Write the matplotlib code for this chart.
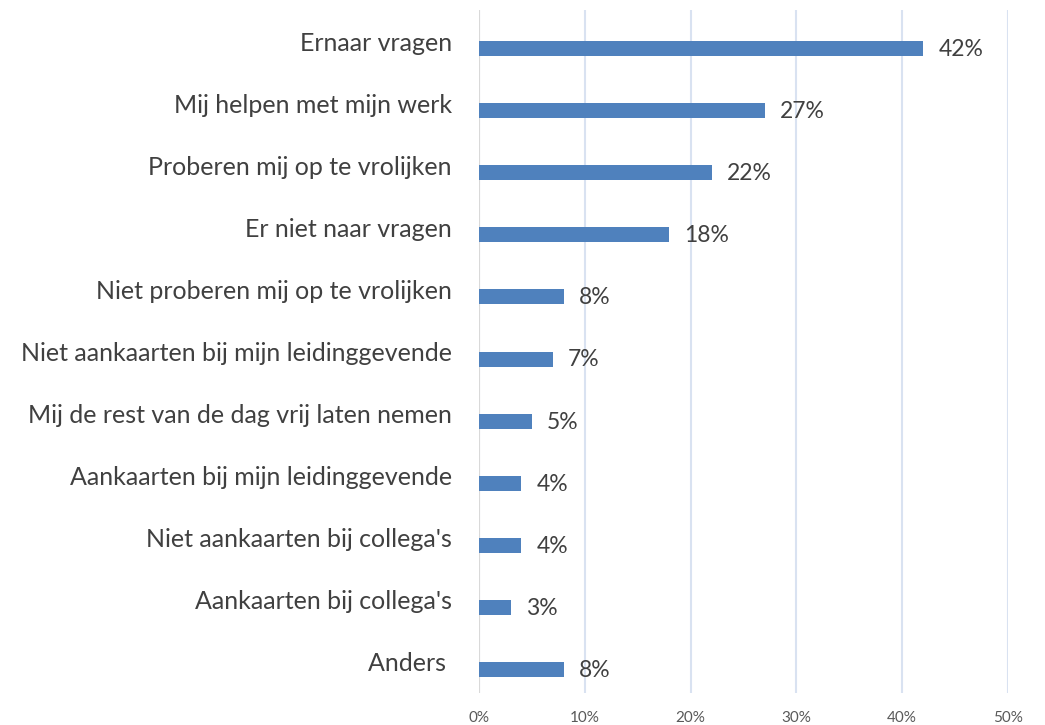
import matplotlib
matplotlib.use("Agg")
import matplotlib.pyplot as plt
from matplotlib.ticker import FuncFormatter

categories = [
    "Ernaar vragen",
    "Mij helpen met mijn werk",
    "Proberen mij op te vrolijken",
    "Er niet naar vragen",
    "Niet proberen mij op te vrolijken",
    "Niet aankaarten bij mijn leidinggevende",
    "Mij de rest van de dag vrij laten nemen",
    "Aankaarten bij mijn leidinggevende",
    "Niet aankaarten bij collega's",
    "Aankaarten bij collega's",
    "Anders ",
]
values = [42, 27, 22, 18, 8, 7, 5, 4, 4, 3, 8]
xticks = [0, 10, 20, 30, 40, 50]

plt.rcParams['font.family'] = ['Lato', 'DejaVu Sans']
text_color = '#404040'
bar_color = '#4f81bd'

W, H = 1045, 725
fig = plt.figure(figsize=(W / 100, H / 100), dpi=100)
ax = fig.add_axes([479 / W, 1 - 693 / H, (1008 - 479) / W, (693 - 10) / H])

n = len(categories)
pos = list(range(n))
row_px = (693 - 10) / n
bar_h = 15 / row_px
ax.barh(pos, values, height=bar_h, align='edge', color=bar_color, zorder=3)

ax.set_xlim(0, 50)
ax.set_ylim(n - 0.5, -0.5)
ax.set_xticks(xticks)
ax.xaxis.set_major_formatter(FuncFormatter(lambda v, p: f"{int(v)}%"))
ax.set_yticks(pos)
ax.set_yticklabels(categories)

ax.grid(axis='x', color='#d9e2f1', linewidth=1.5, zorder=0)
ax.axvline(0, color='#d9d9d9', linewidth=1.5, zorder=2)
for s in ax.spines.values():
    s.set_visible(False)

ax.tick_params(axis='y', length=0, pad=19.5, labelsize=18, labelcolor=text_color)
ax.tick_params(axis='x', length=0, pad=13, labelsize=11, labelcolor='#595959')

for i, v in enumerate(values):
    ax.annotate(f"{v}%", xy=(v, i + bar_h / 2), xytext=(15, -1), textcoords='offset pixels',
                va='center', ha='left', fontsize=16.5, color=text_color)

fig.savefig('out.png', dpi=100, facecolor='white')
